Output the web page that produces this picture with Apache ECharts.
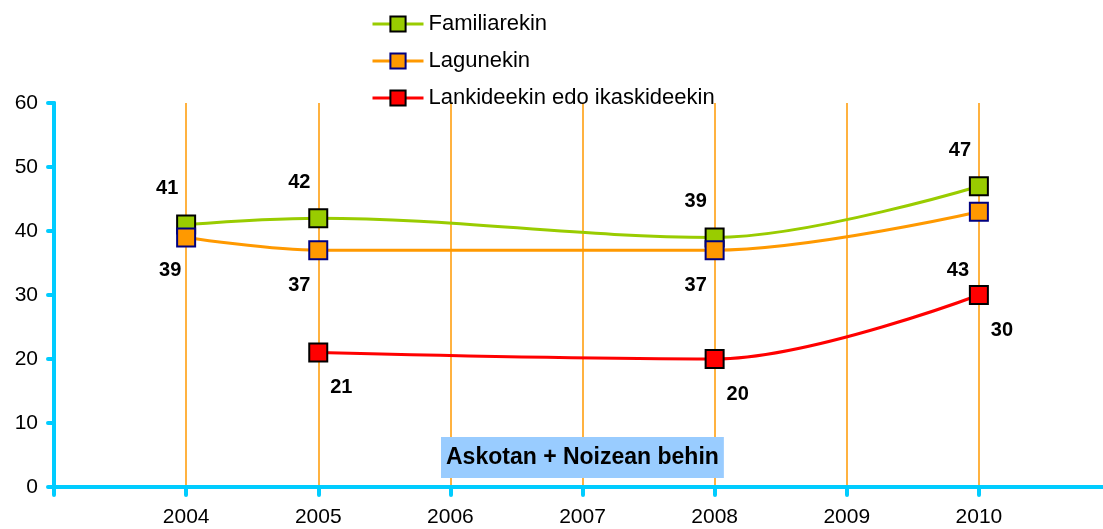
<!DOCTYPE html>
<html>
<head>
<meta charset="utf-8">
<script src="https://cdn.jsdelivr.net/npm/echarts@6/dist/echarts.min.js"></script>
<style>
  html, body { margin: 0; padding: 0; background: #fff; }
  #chart { width: 1103px; height: 529px; }
</style>
</head>
<body>
<div id="chart"></div>
<script>
const years = [2004, 2005, 2006, 2007, 2008, 2009, 2010];
const familiaYears = [2004, 2005, 2008, 2010];
const familiaValues = [41, 42, 39, 47];
const lagunYears = [2004, 2005, 2008, 2010];
const lagunValues = [39, 37, 37, 43];
const lankideYears = [2005, 2008, 2010];
const lankideValues = [21, 20, 30];
const seriesNames = ['Familiarekin', 'Lagunekin', 'Lankideekin edo ikaskideekin'];
const boxText = 'Askotan + Noizean behin';

const FONT = '"Liberation Sans", Arial, sans-serif';
const AXIS_COLOR = '#00CCFF';

const toPoints = (xs, ys) => xs.map((x, i) => [x, ys[i]]);

function makeSeries(name, points, color, border, labelOffset, extraOffsets) {
  return {
    name,
    type: 'line',
    smooth: 0.35,
    data: points.map((p, i) => ({
      value: p,
      label: extraOffsets && extraOffsets[i] ? { offset: extraOffsets[i] } : undefined
    })),
    symbol: 'rect',
    symbolSize: 18,
    lineStyle: { color, width: 3 },
    itemStyle: { color, borderColor: border, borderWidth: 2 },
    label: {
      show: true,
      position: 'inside',
      offset: labelOffset,
      formatter: (p) => p.value[1],
      color: '#000',
      fontFamily: FONT,
      fontWeight: 'bold',
      fontSize: 20
    },
    z: 3
  };
}

const chart = echarts.init(document.getElementById('chart'));

chart.setOption({
  animation: false,
  textStyle: { fontFamily: FONT },
  title: {
    text: boxText,
    left: 441,
    top: 437,
    backgroundColor: '#99CCFF',
    padding: [9, 5, 9, 5],
    textStyle: { fontFamily: FONT, fontWeight: 'bold', fontSize: 23, color: '#000' }
  },
  legend: {
    orient: 'vertical',
    left: 366,
    top: 8,
    itemWidth: 51,
    itemHeight: 19,
    itemGap: 15,
    lineStyle: { width: 3 },
    textStyle: { fontFamily: FONT, fontSize: 22, color: '#000' },
    data: seriesNames
  },
  grid: { left: 54, right: -8, top: 103, bottom: 42, outerBoundsMode: 'none' },
  xAxis: {
    type: 'value',
    min: 2003,
    max: 2011,
    interval: 1,
    axisLine: { lineStyle: { color: AXIS_COLOR, width: 4 } },
    axisTick: { show: true, length: 8, lineStyle: { color: AXIS_COLOR, width: 4, cap: 'round' } },
    axisLabel: {
      margin: 20,
      color: '#000',
      fontFamily: FONT,
      fontSize: 21,
      formatter: (v) => (years.includes(v) ? String(v) : '')
    },
    splitLine: { show: true, lineStyle: { color: '#FF9900', width: 1.5 } }
  },
  yAxis: {
    type: 'value',
    min: 0,
    max: 60,
    interval: 10,
    axisLine: { show: true, lineStyle: { color: AXIS_COLOR, width: 4 } },
    axisTick: { show: true, length: 6, lineStyle: { color: AXIS_COLOR, width: 4, cap: 'round' } },
    axisLabel: { margin: 16, color: '#000', fontFamily: FONT, fontSize: 21 },
    splitLine: { show: false }
  },
  series: [
    makeSeries(seriesNames[0], toPoints(familiaYears, familiaValues), '#99CC00', '#000', [-19, -36]),
    makeSeries(seriesNames[1], toPoints(lagunYears, lagunValues), '#FF9900', '#000080', [-19, 35],
      [[-16, 33], null, null, [-21, 59]]),
    makeSeries(seriesNames[2], toPoints(lankideYears, lankideValues), '#FF0000', '#000', [23, 35])
  ]
});
</script>
</body>
</html>
